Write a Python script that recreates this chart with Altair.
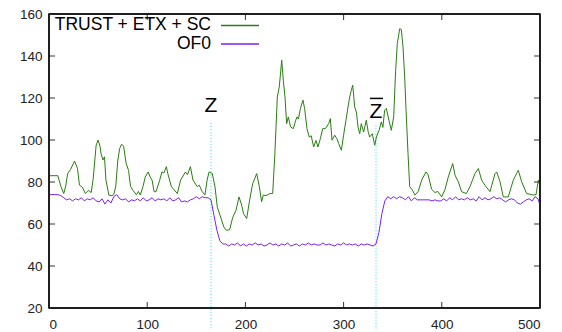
import altair as alt
import pandas as pd

# ---- data ----
green_x = [0, 9, 12, 15, 17, 19, 22, 26, 29, 31, 34, 37, 40, 43, 45, 48, 50, 52, 53, 55, 56.5, 58, 61, 64, 66,
           68, 70, 72, 74, 76, 78.5, 81, 83, 85.5, 89, 91, 93, 95.7, 98, 101, 103, 105, 107, 109, 112.7, 115, 117,
           119.5, 121, 124.6, 127, 130.7, 134, 139, 141, 144, 146.6, 151, 153, 156, 158.8, 161, 163, 166.3, 169,
           171.4, 174.8, 178, 180.6, 184, 187, 190.4, 193.5, 196.2, 198, 201.3, 204, 207.4, 211.5, 214.2, 216.5,
           218.2, 221, 225, 227.8, 230, 232.5, 234.5, 237, 238.6, 240.3, 242, 243.7, 246, 248.8, 251, 252.5, 254,
           256, 258.6, 260.3, 262.7, 265, 267, 269.5, 271.9, 273.9, 276.3, 278.7, 281.4, 284.8, 286.5, 288.2,
           290.9, 293.2, 295, 297.7, 300, 302.4, 304.5, 306.2, 307.9, 309.3, 311.3, 313, 314.7, 316.4, 318, 320.4,
           323.1, 325, 326.5, 329.2, 331.7, 333.4, 336.1, 338.4, 340, 341.8, 343.5, 346.2, 348.6, 351, 353, 354.7,
           357.1, 358.8, 360.5, 362.2, 363.9, 365.6, 367.3, 370, 372.7, 376, 379.5, 383.9, 386, 389.7, 393, 396,
           399.9, 403.3, 406.6, 411.1, 413.4, 416.8, 420.2, 425, 428.7, 433.8, 437.2, 440.6, 444, 449.1, 454.2,
           455.9, 459.3, 462.6, 467.7, 472.8, 477.9, 481.3, 486.4, 493.2, 496, 498.3, 500]
green_y = [83, 83, 78, 74.5, 78, 84, 86, 90, 86.5, 78.5, 77.5, 74.5, 76, 75, 81.5, 97.5, 100, 97, 93.5, 90.5, 92,
           80.8, 73.7, 73.5, 74, 78, 90, 96, 98, 97, 89, 85.5, 78, 76, 74, 75.5, 73.8, 77.8, 82.4, 84.8, 82.4, 80.8,
           75.4, 75.4, 80.8, 84.8, 84.3, 87.3, 84, 77.8, 76.5, 74.5, 80.9, 84.8, 83.5, 87.3, 80.9, 77.8, 78.5, 75.4,
           73.8, 80.9, 84.8, 84, 77.8, 68, 63.3, 58.6, 57, 57.3, 63, 66.5, 72.9, 69, 65, 62.6, 70.5, 79.2, 84, 77.8,
           70.6, 73.8, 73.5, 74.5, 74.5, 93.5, 120.5, 125.3, 138, 128.4, 120.5, 107.8, 111, 106.2, 105.4, 109, 111,
           110, 115, 119, 115, 105.4, 101.4, 102, 96.7, 99.8, 96.7, 100.6, 105.4, 105.4, 107.8, 110.2, 99.9, 102.3,
           100.6, 98.3, 95.1, 102.3, 109.4, 115.7, 120.5, 123.7, 126.1, 115.7, 113.3, 106.2, 103, 107.8, 103.8,
           109.4, 104, 101.4, 103, 97.5, 101.4, 104.6, 108.6, 106, 114.2, 115, 109.4, 104.6, 111, 133.2, 145.9, 153,
           152.6, 144.3, 130, 111, 93.5, 77.8, 76.2, 73.8, 75.5, 80.9, 84.8, 83.5, 76.5, 75, 75.5, 72.9, 76.5, 82.4,
           88.8, 83.3, 80.1, 75.4, 74.5, 77.8, 84, 86.4, 80.9, 78.4, 75.4, 84, 84.8, 80.1, 72.9, 72.9, 80.9, 85.6,
           80.1, 74.5, 73.8, 74, 80.9, 78]

purple_x = list(range(0, 500, 3)) + [500]
purple_y = [74, 74, 74, 74, 73.5, 72.5, 71.5, 72, 71, 72, 71.5, 72.5, 71, 72, 71.5, 72.5, 71, 70.5, 72, 69.5,
            71.5, 70, 73, 74, 72, 71.5, 72, 70.5, 71.5, 71, 72, 71, 72.5, 71, 71.5, 72.5, 71, 72, 71.5, 72, 71,
            72.5, 71, 71.5, 72.5, 70.5, 71, 70.5, 71.5, 72, 73, 72, 73, 72.5, 72.5, 71.5, 64, 57, 52, 50.5, 50.5,
            49.5, 50.5, 50, 51, 49.5, 50.5, 49.5, 50.5, 50, 51, 50, 50.5, 49.5, 50, 51, 50, 50.5, 49.5, 50.5, 50,
            51, 49.5, 50, 50.5, 49.5, 50.5, 50, 51, 50, 50.5, 50, 50, 51, 50, 50.5, 50, 49.5, 50.5, 50, 51, 50,
            50.5, 50, 50.5, 49.5, 50.5, 50, 50.5, 50, 49.5, 50.5, 56, 65, 71, 73, 72, 73, 72, 73, 72.5, 71.5, 73,
            71, 72.5, 71.5, 71.5, 71.5, 71.5, 71.5, 71, 71.5, 71, 71, 72, 71, 72.5, 71.5, 73, 71.5, 72, 71.5, 72.5,
            71.5, 72, 71, 73, 71.5, 72.5, 71.5, 72, 73, 72, 72.5, 71.5, 70.5, 71.5, 72, 71.5, 70, 69.5, 70.5, 71.5,
            72, 71, 73, 72, 69]

series_names = ["TRUST + ETX + SC", "OF0"]
marker_x = [165, 333]
marker_top = [108, 107]
marker_labels = ["Z", "Z"]
x_ticks = [0, 100, 200, 300, 400, 500]
y_ticks = [20, 40, 60, 80, 100, 120, 140, 160]

W, H = 491, 294
GREEN = "#2b7d14"
PURPLE = "#7a22e6"
FONT = "Liberation Sans"

green_df = pd.DataFrame({"x": green_x, "y": green_y})
purple_df = pd.DataFrame({"x": purple_x, "y": purple_y})
marker_df = pd.DataFrame({"x": marker_x, "top": marker_top})

xs = alt.Scale(domain=[0, 500], nice=False, zero=False)
ys = alt.Scale(domain=[20, 160], nice=False, zero=False)
xaxis = alt.Axis(values=x_ticks, title=None, grid=False, domain=False, ticks=False,
                 labelPadding=9, labelFontSize=13.5, labelFont=FONT, labelColor="#222")
yaxis = alt.Axis(values=y_ticks, title=None, grid=False, domain=False, ticks=False,
                 labelPadding=7, labelFontSize=13.5, labelFont=FONT, labelColor="#222")

green_line = alt.Chart(green_df).mark_line(color=GREEN, strokeWidth=1).encode(
    x=alt.X("x:Q", scale=xs, axis=xaxis), y=alt.Y("y:Q", scale=ys, axis=yaxis))
purple_line = alt.Chart(purple_df).mark_line(color=PURPLE, strokeWidth=1).encode(
    x=alt.X("x:Q", scale=xs), y=alt.Y("y:Q", scale=ys))

markers = alt.Chart(marker_df).mark_rule(color="#22d8e8", strokeWidth=1, strokeDash=[1, 2]).encode(
    x=alt.X("x:Q", scale=xs), y=alt.Y("top:Q", scale=ys), y2=alt.value(H + 22))

z_text = alt.Chart(pd.DataFrame({"x": [marker_x[0]], "t": [marker_labels[0]]})).mark_text(
    font=FONT, fontSize=21, baseline="alphabetic", align="center", color="black").encode(
    x=alt.X("x:Q", scale=xs), y=alt.datum(113.2), text="t:N")
zbar_text = alt.Chart(pd.DataFrame({"x": [marker_x[1]], "t": [marker_labels[1]]})).mark_text(
    font=FONT, fontSize=21, baseline="alphabetic", align="center", color="black").encode(
    x=alt.X("x:Q", scale=xs), y=alt.datum(110.6), text="t:N")
# overline of Z-bar drawn as a short rule
zbar_bar = alt.Chart(pd.DataFrame({"x": [marker_x[1]]})).mark_rule(
    color="black", strokeWidth=1.5, xOffset=-6, x2Offset=7).encode(
    x=alt.X("x:Q", scale=xs), x2="x:Q", y=alt.datum(119.8))

xt = pd.DataFrame({"x": x_ticks[1:-1]})
yt = pd.DataFrame({"y": y_ticks[1:-1]})
tick_style = dict(color="#333", strokeWidth=1)
xt_bottom = alt.Chart(xt).mark_rule(**tick_style).encode(
    x=alt.X("x:Q", scale=xs), y=alt.value(H), y2=alt.value(H - 6))
xt_top = alt.Chart(xt).mark_rule(**tick_style).encode(
    x=alt.X("x:Q", scale=xs), y=alt.value(0), y2=alt.value(6))
yt_left = alt.Chart(yt).mark_rule(**tick_style).encode(
    y=alt.Y("y:Q", scale=ys), x=alt.value(0), x2=alt.value(6))
yt_right = alt.Chart(yt).mark_rule(**tick_style).encode(
    y=alt.Y("y:Q", scale=ys), x=alt.value(W), x2=alt.value(W - 6))

# plot border: vertical edges at the x-domain ends, horizontal edges at the y-domain ends
edge = dict(color="#111", strokeWidth=1.5)
x_ends = pd.DataFrame({"x": [x_ticks[0], x_ticks[-1]]})
y_ends = pd.DataFrame({"y": [y_ticks[0], y_ticks[-1]]})
b_vert = alt.Chart(x_ends).mark_rule(**edge).encode(
    x=alt.X("x:Q", scale=xs), y=alt.value(0), y2=alt.value(H))
b_horiz = alt.Chart(y_ends).mark_rule(**edge).encode(
    y=alt.Y("y:Q", scale=ys), x=alt.value(0), x2=alt.value(W))

leg_df = pd.DataFrame({"t": series_names})
leg1 = alt.Chart(leg_df.iloc[[0]]).mark_text(font=FONT, fontSize=17.5, align="right", baseline="middle",
                                              color="black").encode(
    x=alt.value(162), y=alt.value(11), text="t:N")
leg2 = alt.Chart(leg_df.iloc[[1]]).mark_text(font=FONT, fontSize=17.5, align="right", baseline="middle",
                                              color="black").encode(
    x=alt.value(162), y=alt.value(29.5), text="t:N")
leg1_line = alt.Chart(leg_df.iloc[[0]]).mark_rule(color=GREEN, strokeWidth=1.3).encode(
    x=alt.value(172), x2=alt.value(210), y=alt.value(11.5))
leg2_line = alt.Chart(leg_df.iloc[[1]]).mark_rule(color=PURPLE, strokeWidth=1.3).encode(
    x=alt.value(172), x2=alt.value(210), y=alt.value(30))

chart = alt.layer(
    markers, green_line, purple_line, z_text, zbar_text, zbar_bar,
    xt_bottom, xt_top, yt_left, yt_right, b_vert, b_horiz,
    leg1, leg2, leg1_line, leg2_line,
).properties(
    width=W, height=H,
    autosize=alt.AutoSizeParams(type="none"),
    padding={"left": 41, "top": 6, "right": 14, "bottom": 24},
    background="white",
).configure_view(stroke="#111", strokeWidth=1.5)

chart.save("out.html", embed_options={"renderer": "svg", "actions": False})
